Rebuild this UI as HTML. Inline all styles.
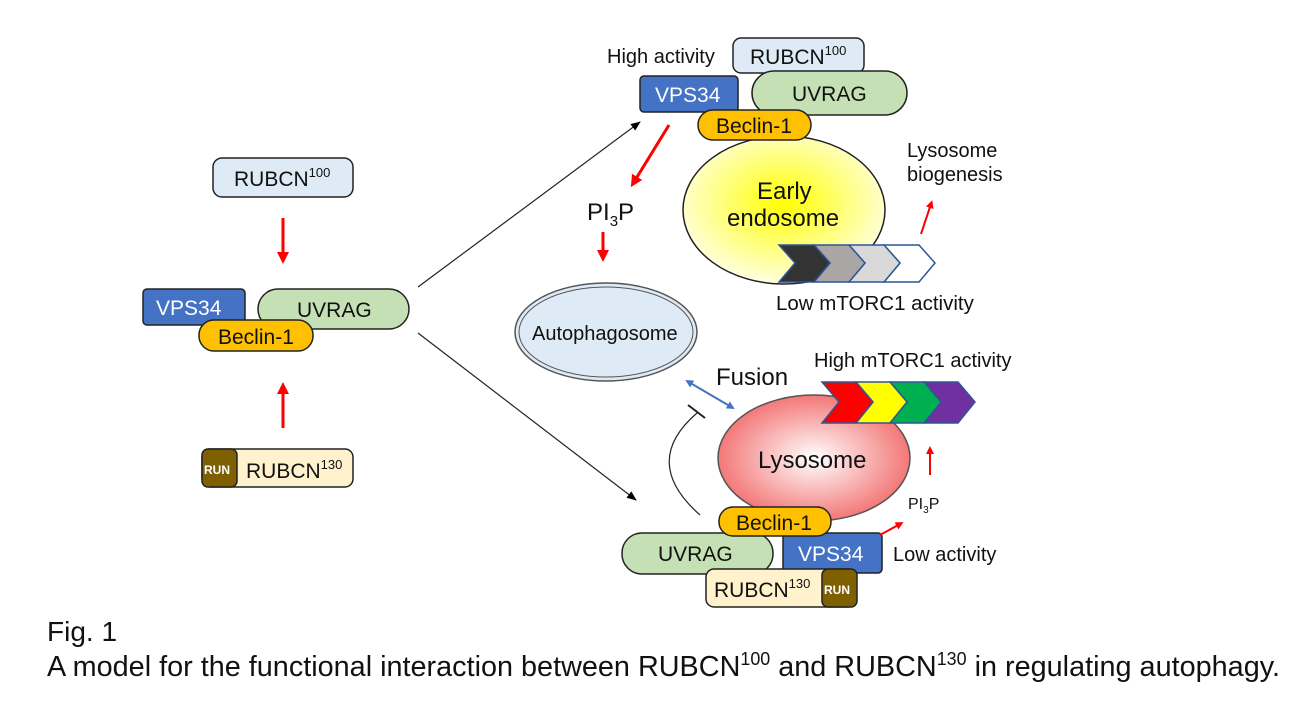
<!DOCTYPE html>
<html><head><meta charset="utf-8"><style>
html,body{margin:0;padding:0;background:#fff;width:1303px;height:706px;overflow:hidden}
svg{display:block;font-family:"Liberation Sans",Arial,sans-serif}
</style></head><body>
<svg width="1303" height="706" viewBox="0 0 1303 706" xmlns="http://www.w3.org/2000/svg">
<defs>
<marker id="rh" markerWidth="4" markerHeight="4" refX="2" refY="2" orient="auto" markerUnits="strokeWidth"><path d="M0,0 L4,2 L0,4 z" fill="#ff0000"/></marker>
<marker id="bh" markerWidth="10" markerHeight="8" refX="9" refY="4" orient="auto" markerUnits="userSpaceOnUse"><path d="M0,0 L10,4 L0,8 z" fill="#000"/></marker>
<marker id="blh" markerWidth="4" markerHeight="4" refX="3" refY="2" orient="auto" markerUnits="strokeWidth"><path d="M0,0 L4,2 L0,4 z" fill="#4472c4"/></marker>
<marker id="blt" markerWidth="4" markerHeight="4" refX="1" refY="2" orient="auto" markerUnits="strokeWidth"><path d="M4,0 L0,2 L4,4 z" fill="#4472c4"/></marker>
<radialGradient id="yg" cx="0.5" cy="0.45" r="0.55"><stop offset="0" stop-color="#ffff00"/><stop offset="1" stop-color="#ffffe0"/></radialGradient>
<radialGradient id="rg" cx="0.5" cy="0.5" r="0.55"><stop offset="0" stop-color="#ffffff"/><stop offset="1" stop-color="#f26a6a"/></radialGradient>
</defs>
<g stroke="#222" stroke-width="1.5">
<rect x="213" y="158" width="140" height="39" rx="9" fill="#deebf7"/>
<rect x="143" y="289" width="102" height="36" rx="4" fill="#4472c4"/>
<rect x="258" y="289" width="151" height="40" rx="20" fill="#c5e0b4"/>
<rect x="199" y="320" width="114" height="31" rx="15" fill="#ffc000"/>
<rect x="202" y="449" width="151" height="38" rx="8" fill="#fff2cc"/>
<rect x="202" y="449" width="35" height="38" rx="6" fill="#7f6000"/>
<rect x="733" y="38" width="131" height="35" rx="8" fill="#deebf7"/>
<rect x="640" y="76" width="98" height="36" rx="4" fill="#4472c4"/>
<rect x="752" y="71" width="155" height="44" rx="22" fill="#c5e0b4"/>
<ellipse cx="784" cy="210" rx="101" ry="74" fill="url(#yg)"/>
<rect x="698" y="110" width="113" height="30" rx="15" fill="#ffc000"/>
<ellipse cx="606" cy="332" rx="91" ry="49" fill="#deebf7" stroke="#555"/>
<ellipse cx="606" cy="332" rx="87" ry="45" fill="none" stroke="#555" stroke-width="1"/>
<ellipse cx="814" cy="458" rx="96" ry="63" fill="url(#rg)" stroke="#555"/>
<rect x="622" y="533" width="151" height="41" rx="20" fill="#c5e0b4"/>
<rect x="783" y="533" width="99" height="40" rx="4" fill="#4472c4"/>
<rect x="719" y="507" width="112" height="29" rx="14" fill="#ffc000"/>
<rect x="706" y="569" width="150" height="38" rx="8" fill="#fff2cc"/>
<rect x="822" y="569" width="35" height="38" rx="6" fill="#7f6000"/>
</g>
<g stroke="#2f5597" stroke-width="1.5">
<path d="M884,245 L919,245 L935,263 L919,282 L884,282 L900,263 z" fill="#fff"/>
<path d="M849,245 L884,245 L900,263 L884,282 L849,282 L865,263 z" fill="#d9d9d9"/>
<path d="M814,245 L849,245 L865,263 L849,282 L814,282 L830,263 z" fill="#aaa6a6"/>
<path d="M779,245 L814,245 L830,263 L814,282 L779,282 L795,263 z" fill="#333"/>
</g>
<g stroke="#2f5597" stroke-width="1.5">
<path d="M924,382 L958,382 L975,402 L958,423 L924,423 L941,402 z" fill="#7030a0"/>
<path d="M890,382 L924,382 L941,402 L924,423 L890,423 L907,402 z" fill="#00b050"/>
<path d="M856,382 L890,382 L907,402 L890,423 L856,423 L873,402 z" fill="#ffff00"/>
<path d="M822,382 L856,382 L873,402 L856,423 L822,423 L839,402 z" fill="#ff0000"/>
</g>
<g stroke="#ff0000" stroke-width="3" fill="none">
<line x1="283" y1="218" x2="283" y2="258" marker-end="url(#rh)"/>
<line x1="283" y1="428" x2="283" y2="388" marker-end="url(#rh)"/>
<line x1="669" y1="125" x2="634" y2="182" marker-end="url(#rh)"/>
<line x1="603" y1="232" x2="603" y2="256" marker-end="url(#rh)"/>
</g>
<g stroke="#ff0000" stroke-width="2" fill="none">
<line x1="921" y1="234" x2="931" y2="204" marker-end="url(#rh)"/>
<line x1="930" y1="475" x2="930" y2="450" marker-end="url(#rh)"/>
<line x1="880" y1="535" x2="900" y2="524" marker-end="url(#rh)"/>
</g>
<g stroke="#222" stroke-width="1.2" fill="none">
<line x1="418" y1="287" x2="640" y2="122" marker-end="url(#bh)"/>
<line x1="418" y1="333" x2="636" y2="500" marker-end="url(#bh)"/>
<path d="M700,515 Q640,462 697,413"/>
<line x1="688" y1="405" x2="705" y2="418" stroke-width="2"/>
</g>
<line x1="687" y1="381" x2="733" y2="408" stroke="#4472c4" stroke-width="2" marker-end="url(#blh)" marker-start="url(#blt)"/>
<g fill="#111" font-size="21">
<text x="234" y="186">RUBCN<tspan font-size="13" dy="-9">100</tspan></text>
<text x="156" y="315" fill="#fff">VPS34</text>
<text x="297" y="317">UVRAG</text>
<text x="218" y="344">Beclin-1</text>
<text x="204" y="474" font-size="12" font-weight="bold" fill="#fff">RUN</text>
<text x="246" y="478">RUBCN<tspan font-size="13" dy="-9">130</tspan></text>
<text x="607" y="63" font-size="20">High activity</text>
<text x="750" y="64">RUBCN<tspan font-size="13" dy="-9">100</tspan></text>
<text x="655" y="102" fill="#fff">VPS34</text>
<text x="792" y="101">UVRAG</text>
<text x="716" y="133">Beclin-1</text>
<text x="757" y="199" font-size="24">Early</text>
<text x="727" y="226" font-size="24">endosome</text>
<text x="907" y="157" font-size="20">Lysosome</text>
<text x="907" y="181" font-size="20">biogenesis</text>
<text x="587" y="220" font-size="24">PI<tspan font-size="15" dy="6">3</tspan><tspan dy="-6">P</tspan></text>
<text x="776" y="310" font-size="20.5">Low mTORC1 activity</text>
<text x="532" y="340" font-size="20">Autophagosome</text>
<text x="716" y="385" font-size="24">Fusion</text>
<text x="814" y="367" font-size="20">High mTORC1 activity</text>
<text x="758" y="468" font-size="24">Lysosome</text>
<text x="908" y="509" font-size="16">PI<tspan font-size="10" dy="4">3</tspan><tspan dy="-4">P</tspan></text>
<text x="736" y="530">Beclin-1</text>
<text x="658" y="561">UVRAG</text>
<text x="798" y="561" fill="#fff">VPS34</text>
<text x="893" y="561" font-size="20">Low activity</text>
<text x="714" y="597">RUBCN<tspan font-size="13" dy="-9">130</tspan></text>
<text x="824" y="594" font-size="12" font-weight="bold" fill="#fff">RUN</text>
<text x="47" y="641" font-size="28">Fig. 1</text>
<text x="47" y="676" font-size="29" textLength="1233" lengthAdjust="spacingAndGlyphs">A model for the functional interaction between RUBCN<tspan font-size="18" dy="-11">100</tspan><tspan dy="11"> and RUBCN</tspan><tspan font-size="18" dy="-11">130</tspan><tspan dy="11"> in regulating autophagy.</tspan></text>
</g>
</svg>
</body></html>
